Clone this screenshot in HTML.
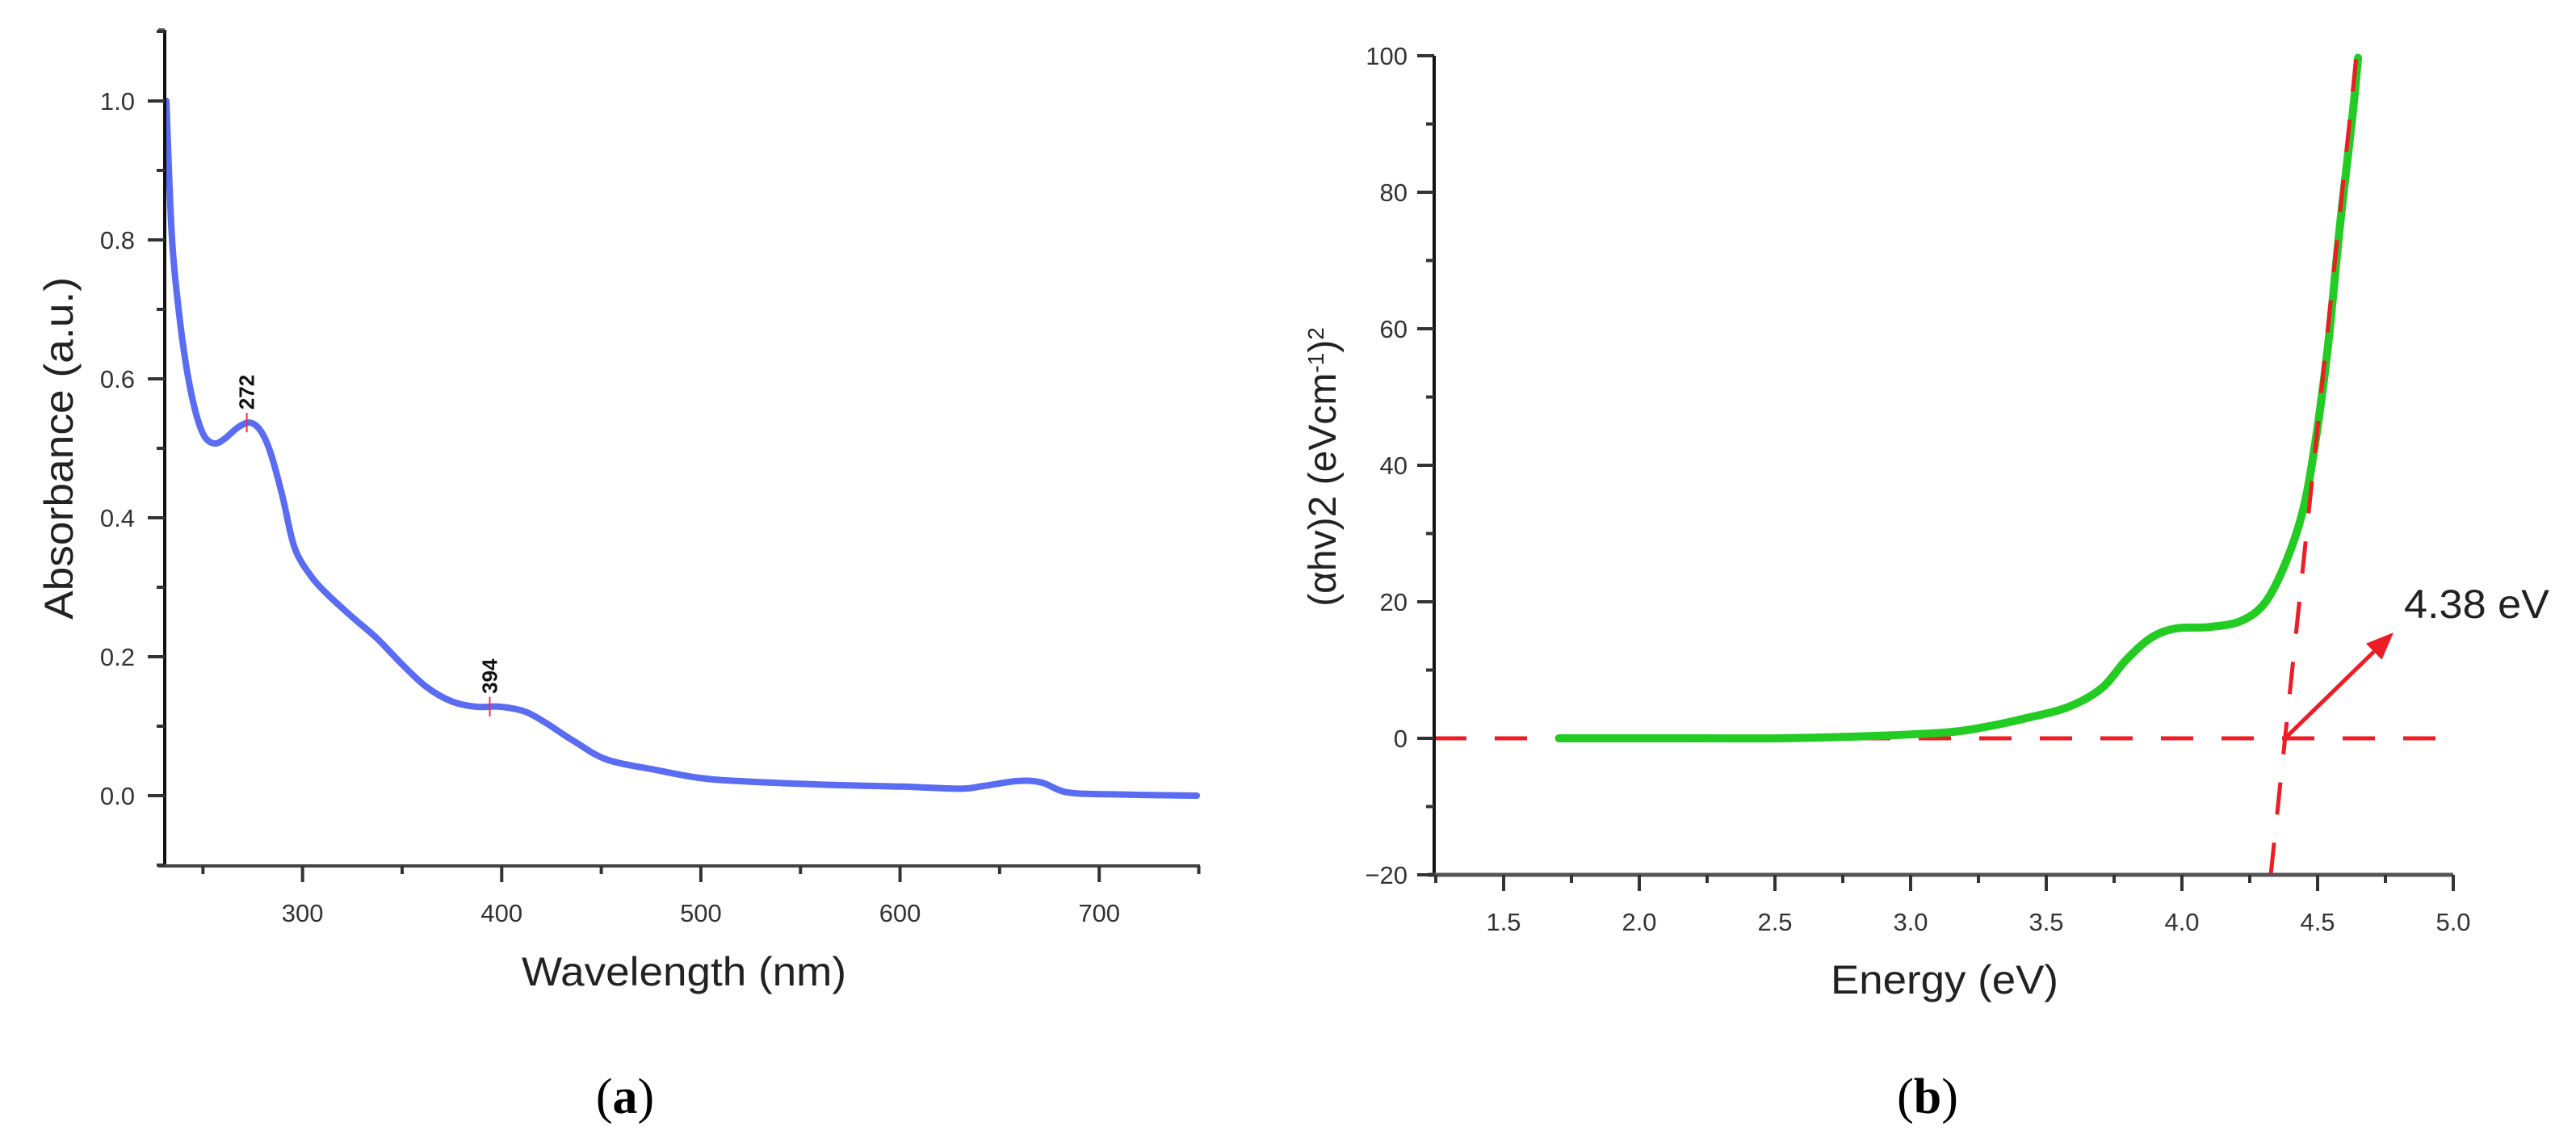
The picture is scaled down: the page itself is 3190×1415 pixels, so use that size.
<!DOCTYPE html>
<html><head><meta charset="utf-8">
<style>
html,body{margin:0;padding:0;background:#fff;}
svg{display:block;font-family:"Liberation Sans",Arial,sans-serif;}
</style></head>
<body>
<svg id="fig" width="3190" height="1415" viewBox="0 0 3190 1415" xmlns="http://www.w3.org/2000/svg">
  <g id="pa"></g>
  <g id="pb"></g>
  <text x="774" y="1378" font-family="Liberation Serif,serif" font-size="62" text-anchor="middle" fill="#000">(<tspan font-weight="bold">a</tspan>)</text>
  <text x="2387" y="1378" font-family="Liberation Serif,serif" font-size="62" text-anchor="middle" fill="#000">(<tspan font-weight="bold">b</tspan>)</text>
</svg>
<script>
// ---- Panel A data ----
const wavelengths = [231.6,234.5,238.6,242.7,246.9,251,256,261,267.5,273.6,279,284,290,296,304.5,312.8,325,337.5,350,362,374.6,387,399,411.6,422,436,452.8,477.5,498,518.7,560,601,630,642,659,671,683.5,704,749];
const absorbance  = [1.0,0.80,0.68,0.60,0.546,0.516,0.507,0.514,0.53,0.537,0.525,0.493,0.43,0.357,0.315,0.289,0.257,0.226,0.189,0.157,0.136,0.128,0.128,0.121,0.105,0.079,0.052,0.037,0.026,0.021,0.016,0.013,0.010,0.014,0.021,0.019,0.005,0.002,0.0];
const aXTicks = [300,400,500,600,700];
const aYTicks = [0.0,0.2,0.4,0.6,0.8,1.0];
const aYTickLabels = ["0.0","0.2","0.4","0.6","0.8","1.0"];
const aPeaks = [272,394];
const aPeakValues = [0.537,0.128];
// ---- Panel B data ----
const energy = [1.704,2.219,2.522,2.825,3.128,3.28,3.431,3.582,3.703,3.795,3.885,3.977,4.098,4.218,4.309,4.385,4.446,4.49,4.537,4.582,4.628,4.649];
const tauc   = [0,0,0,0.3,0.85,1.7,3,4.6,7.3,11.5,14.7,16.1,16.3,17.2,20,26,33.4,43,57,75,91,99.7];
const bXTicks = [1.5,2.0,2.5,3.0,3.5,4.0,4.5,5.0];
const bXTickLabels = ["1.5","2.0","2.5","3.0","3.5","4.0","4.5","5.0"];
const bYTicks = [-20,0,20,40,60,80,100];
const bYTickLabels = ["\u221220","0","20","40","60","80","100"];
const bandGap = [4.38];
const tangentSlope = [380];

const NS="http://www.w3.org/2000/svg";
function mk(parent,tag,attrs){const e=document.createElementNS(NS,tag);for(const k in attrs)e.setAttribute(k,attrs[k]);parent.appendChild(e);return e;}
function smooth(pts){
  let d='M'+pts[0][0].toFixed(1)+','+pts[0][1].toFixed(1);
  for(let i=0;i<pts.length-1;i++){
    const p0=pts[Math.max(0,i-1)],p1=pts[i],p2=pts[i+1],p3=pts[Math.min(pts.length-1,i+2)];
    const c1x=p1[0]+(p2[0]-p0[0])/6,c1y=p1[1]+(p2[1]-p0[1])/6;
    const c2x=p2[0]-(p3[0]-p1[0])/6,c2y=p2[1]-(p3[1]-p1[1])/6;
    d+=' C'+c1x.toFixed(1)+','+c1y.toFixed(1)+' '+c2x.toFixed(1)+','+c2y.toFixed(1)+' '+p2[0].toFixed(1)+','+p2[1].toFixed(1);
  }
  return d;
}

// ===== Panel A =====
(function(){
  const g=document.getElementById('pa');
  const X0=204,X1=1486,Y0=1072,Y1=37;
  const xd=[230.8,750.6];
  const sx=v=>X0+(v-xd[0])/(xd[1]-xd[0])*(X1-X0);
  const sy=v=>985-(v)*860;
  const d=smooth(wavelengths.map((w,i)=>[sx(w),sy(absorbance[i])]));
  const c=mk(g,'path',{d:d,fill:'none',stroke:'#5a6cf2','stroke-width':8,'stroke-linejoin':'round','stroke-linecap':'round'});
  
  
  const ya=mk(g,'line',{x1:X0,y1:Y1,x2:X0,y2:Y0+2,stroke:'#111','stroke-width':4});
  
  
  const xa=mk(g,'line',{x1:X0-8,y1:Y0,x2:X1,y2:Y0,stroke:'#444','stroke-width':4});
  
  
  mk(g,'line',{x1:X0-8,y1:Y1,x2:X0,y2:Y1,stroke:'#555','stroke-width':4});
  for(let v=-0.1;v<=1.11;v+=0.1){
    const y=sy(v); const major=Math.abs(Math.round(v*10)%2)===0;
    const t=mk(g,'line',{x1:X0-(major?21:10),y1:y,x2:X0,y2:y,stroke:'#333','stroke-width':4});
    
    
  }
  aYTicks.forEach((v,i)=>{
    const t=mk(g,'text',{x:167,y:sy(v)+11,'font-size':31,'text-anchor':'end',fill:'#333'});
    t.textContent=aYTickLabels[i];
    
    
  });
  for(let v=250;v<=750;v+=50){
    const x=sx(v); const major=v%100===0;
    const t=mk(g,'line',{x1:x,y1:Y0,x2:x,y2:Y0+(major?20:10),stroke:'#333','stroke-width':4});
    
    
  }
  aXTicks.forEach(v=>{
    const t=mk(g,'text',{x:sx(v),y:1141,'font-size':31,'text-anchor':'middle',fill:'#333'});
    t.textContent=String(v);
    
    
  });
  aPeaks.forEach((p,i)=>{
    const x=sx(p), y=sy(aPeakValues[i]);
    const m=mk(g,'line',{x1:x,y1:y-12,x2:x,y2:y+12,stroke:'#f03040','stroke-width':2});
    
    
    const t=mk(g,'text',{x:0,y:0,'font-size':26,'font-weight':'bold',fill:'#111',transform:`translate(${x+9},${y-16}) rotate(-90)`});
    t.textContent=String(p);
    
    
  });
  const xt=mk(g,'text',{x:847,y:1220,'font-size':50,'text-anchor':'middle',fill:'#222',textLength:402,lengthAdjust:'spacingAndGlyphs'});
  xt.textContent='Wavelength (nm)';
  
  
  const yt=mk(g,'text',{x:0,y:0,'font-size':50,'text-anchor':'middle',fill:'#222',transform:'translate(90,555) rotate(-90)',textLength:424,lengthAdjust:'spacingAndGlyphs'});
  yt.textContent='Absorbance (a.u.)';
  
  
})();

// ===== Panel B =====
(function(){
  const g=document.getElementById('pb');
  const X0=1776,X1=3038,Y0=1083,Y1=69;
  const xd=[1.244,5.0];
  const sx=v=>X0+(v-xd[0])*336;
  const sy=v=>914-v*8.45;
  const zl=mk(g,'line',{x1:X0,y1:sy(0),x2:3025,y2:sy(0),stroke:'#ee1c24','stroke-width':5,'stroke-dasharray':'40 35'});
  
  
  const d=smooth(energy.map((e,i)=>[sx(e),sy(tauc[i])]));
  const c=mk(g,'path',{d:d,fill:'none',stroke:'#22cc22','stroke-width':10,'stroke-linejoin':'round','stroke-linecap':'round'});
  
  
  const eg=bandGap[0], s=tangentSlope[0];
  const tl=mk(g,'line',{x1:sx(eg+(-20)/s),y1:sy(-20),x2:sx(eg+100/s),y2:sy(100),stroke:'#ee1c24','stroke-width':5,'stroke-dasharray':'40 35'});
  
  
  const ax1=sx(eg), ay1=sy(0), ax2=sx(4.78), ay2=sy(15.5);
  const ang=Math.atan2(ay2-ay1,ax2-ax1);
  const hl=34, hw=14;
  const bx=ax2-hl*Math.cos(ang), by=ay2-hl*Math.sin(ang);
  const ar=mk(g,'line',{x1:ax1,y1:ay1,x2:bx,y2:by,stroke:'#ee1c24','stroke-width':5});
  
  
  const ah=mk(g,'polygon',{points:`${ax2},${ay2} ${bx+hw*Math.sin(ang)},${by-hw*Math.cos(ang)} ${bx-hw*Math.sin(ang)},${by+hw*Math.cos(ang)}`,fill:'#ee1c24'});
  
  
  const bl=mk(g,'text',{x:2977,y:765,'font-size':50,fill:'#222',textLength:180,lengthAdjust:'spacingAndGlyphs'});
  bl.textContent=eg.toFixed(2)+' eV';
  
  
  const ya=mk(g,'line',{x1:X0,y1:Y1,x2:X0,y2:Y0+2,stroke:'#111','stroke-width':4});
  
  
  const xa=mk(g,'line',{x1:X0-8,y1:Y0,x2:X1,y2:Y0,stroke:'#555','stroke-width':5});
  
  
  for(let v=-20;v<=100;v+=10){
    const y=sy(v); const major=v%20===0;
    const t=mk(g,'line',{x1:X0-(major?21:10),y1:y,x2:X0,y2:y,stroke:'#333','stroke-width':4});
    
    
  }
  bYTicks.forEach((v,i)=>{
    const t=mk(g,'text',{x:1743,y:sy(v)+11,'font-size':31,'text-anchor':'end',fill:'#333'});
    t.textContent=bYTickLabels[i];
    
    
  });
  for(let v=1.25;v<=5.001;v+=0.25){
    const x=sx(v); const major=Math.abs((v*2)-Math.round(v*2))<1e-6;
    const t=mk(g,'line',{x1:x,y1:Y0,x2:x,y2:Y0+(major?20:10),stroke:'#333','stroke-width':4});
    
    
  }
  bXTicks.forEach((v,i)=>{
    const t=mk(g,'text',{x:sx(v),y:1152,'font-size':31,'text-anchor':'middle',fill:'#333'});
    t.textContent=bXTickLabels[i];
    
    
  });
  const xt=mk(g,'text',{x:2408,y:1230,'font-size':50,'text-anchor':'middle',fill:'#222',textLength:282,lengthAdjust:'spacingAndGlyphs'});
  xt.textContent='Energy (eV)';
  
  
  const yt=mk(g,'text',{x:0,y:0,'font-size':48,'text-anchor':'middle',fill:'#222',transform:'translate(1654,578) rotate(-90)'});
  yt.innerHTML='(\u03b1hv)2 (eVcm<tspan baseline-shift="super" font-size="28">-1</tspan>)<tspan baseline-shift="super" font-size="28">2</tspan>';
  
  
})();
</script>
</body></html>
